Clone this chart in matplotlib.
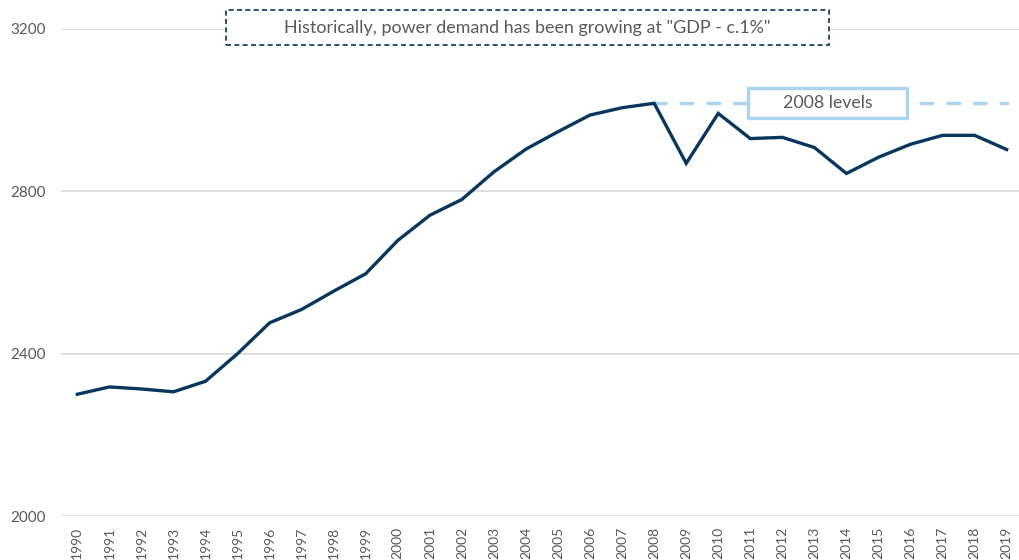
import matplotlib
matplotlib.use("Agg")
import matplotlib.pyplot as plt
from matplotlib.patches import Rectangle

plt.rcParams['font.family'] = ['Lato', 'DejaVu Sans']

years = list(range(1990, 2020))
demand = [2300, 2318, 2313, 2306, 2332, 2400, 2476, 2509, 2554, 2597,
          2679, 2741, 2780, 2848, 2904, 2947, 2988, 3006, 3017, 2869,
          2992, 2930, 2933, 2908, 2844, 2884, 2916, 2938, 2938, 2903]
ref_year = 2008
yticks = [2000, 2400, 2800, 3200]

NAVY = "#08365C"
LIGHT = "#AAD4F0"
GREY = "#595959"

W, H = 1019, 560
fig = plt.figure(figsize=(W / 100, H / 100), dpi=100)
left, right, top, bottom = 61.3, 1022.7, 29, 516
ax = fig.add_axes([left / W, (H - bottom) / H, (right - left) / W, (bottom - top) / H])


def px_box(x0, y0, x1, y1, **kw):
    # rectangle given in picture pixels (top-left origin)
    r = Rectangle((x0 / W, 1 - y1 / H), (x1 - x0) / W, (y1 - y0) / H,
                  transform=fig.transFigure, fc="white", zorder=5, **kw)
    fig.patches.append(r)


xs = list(range(len(years)))
ax.plot(xs, demand, color=NAVY, lw=2.4, solid_joinstyle='miter', zorder=3)

# 2008 reference level
i0 = years.index(ref_year)
ref = demand[i0]
ax.plot([xs[i0], xs[-1]], [ref, ref], color=LIGHT, lw=2.4, ls=(0, (3.5, 4.5)),
        dash_capstyle='round', zorder=2)

px_box(748, 88, 907, 118, ec=LIGHT, lw=2.4)
fig.text(828 / W, 1 - 103 / H, "2008 levels", ha='center', va='center',
         fontsize=12.8, color=GREY, zorder=6)

px_box(226, 10, 829, 45, ec=NAVY, lw=1.2, ls=(0, (3, 2)))
fig.text(527 / W, 1 - 27.5 / H, 'Historically, power demand has been growing at "GDP - c.1%"',
         ha='center', va='center', fontsize=12.9, color=GREY, zorder=6)

ax.set_xlim(-0.5, len(years) - 0.5)
ax.set_ylim(yticks[0], yticks[-1])
ax.set_yticks(yticks)
ax.set_xticks(xs)
ax.set_xticklabels([str(y) for y in years], rotation=90, fontsize=10, color=GREY)
ax.set_yticklabels([str(v) for v in yticks], fontsize=11, color=GREY)
ax.tick_params(length=0)
ax.tick_params(axis='x', pad=8)
ax.tick_params(axis='y', pad=11)
ax.grid(axis='y', color="#D9D9D9", lw=1.2)
ax.set_axisbelow(True)
for s in ax.spines.values():
    s.set_visible(False)

fig.savefig("out.png", dpi=100)
